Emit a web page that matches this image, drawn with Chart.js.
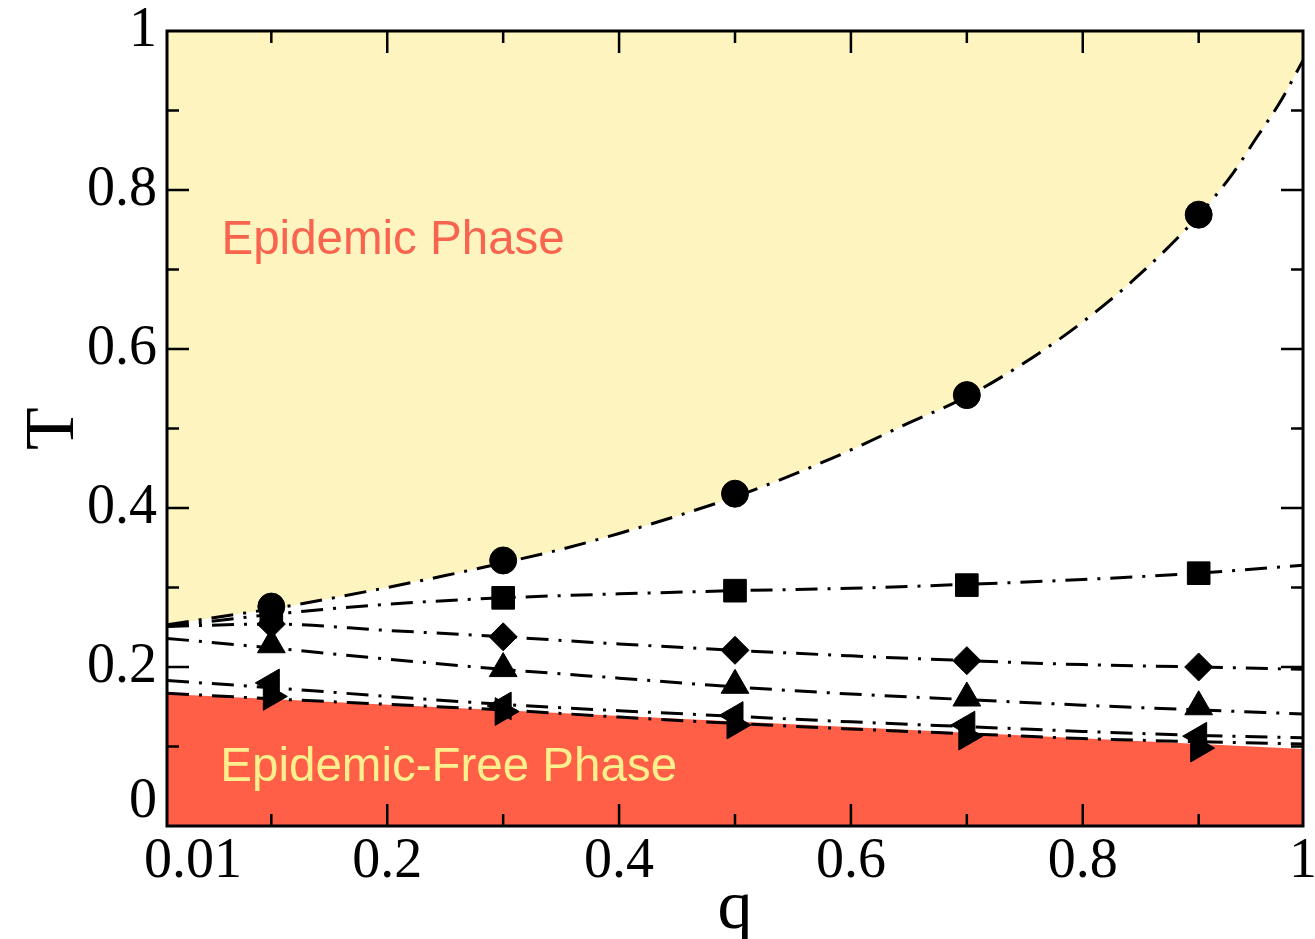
<!DOCTYPE html>
<html>
<head>
<meta charset="utf-8">
<script src="https://cdn.jsdelivr.net/npm/chart.js@4.4.1/dist/chart.umd.min.js"></script>
<style>
  html, body { margin: 0; padding: 0; background: #fff; }
  #wrap { width: 1315px; height: 939px; }
</style>
</head>
<body>
<div id="wrap"><canvas id="phaseChart"></canvas></div>
<script>
// measured thresholds (markers)
const qPoints = [0.1, 0.3, 0.5, 0.7, 0.9];
const circleT = [0.276, 0.334, 0.418, 0.542, 0.769];
const squareT = [0.265, 0.287, 0.296, 0.303, 0.318];
const diamondT = [0.254, 0.238, 0.221, 0.208, 0.200];
const triUpT = [0.228, 0.198, 0.177, 0.161, 0.150];
const triLeftT = [0.180, 0.151, 0.139, 0.127, 0.113];
const triRightT = [0.163, 0.144, 0.127, 0.113, 0.098];

// fitted curves (dash-dot lines)
const qFitCircle = [0.01, 0.05, 0.1, 0.15, 0.2, 0.25, 0.3, 0.35, 0.4, 0.45, 0.5, 0.55,
                    0.6, 0.65, 0.7, 0.75, 0.8, 0.85, 0.9, 0.93, 0.95, 0.97, 0.99];
const circleFit = [0.253, 0.262, 0.273, 0.286, 0.300, 0.315, 0.331, 0.348, 0.368, 0.390, 0.414, 0.442,
                   0.473, 0.507, 0.540, 0.583, 0.634, 0.695, 0.768, 0.822, 0.866, 0.910, 0.963];
const qFit = [0.01, 0.1, 0.2, 0.3, 0.4, 0.5, 0.6, 0.7, 0.8, 0.9, 0.99];
const squareFit = [0.251, 0.266, 0.279, 0.287, 0.292, 0.296, 0.299, 0.304, 0.310, 0.318, 0.328];
const diamondFit = [0.251, 0.254, 0.246, 0.238, 0.229, 0.221, 0.214, 0.208, 0.203, 0.200, 0.197];
const triUpFit = [0.236, 0.224, 0.210, 0.197, 0.186, 0.175, 0.166, 0.159, 0.152, 0.146, 0.141];
const triLeftFit = [0.183, 0.174, 0.163, 0.153, 0.145, 0.138, 0.131, 0.125, 0.119, 0.114, 0.111];
const triRightFit = [0.167, 0.160, 0.153, 0.146, 0.137, 0.129, 0.122, 0.116, 0.110, 0.106, 0.103];

// epidemic-free region boundary
const qFree = [0.01, 0.99];
const freeT = [0.166, 0.097];

// axes
const xMin = 0.01, xMax = 0.99;
const xLabelAt = [0.0325, 0.2, 0.4, 0.6, 0.8, 0.99];
const xLabelText = ['0.01', '0.2', '0.4', '0.6', '0.8', '1'];
const yLabelAt = [0.03, 0.2, 0.4, 0.6, 0.8, 1];
const yLabelText = ['0', '0.2', '0.4', '0.6', '0.8', '1'];
const xTickMarks = [0.1, 0.2, 0.3, 0.4, 0.5, 0.6, 0.7, 0.8, 0.9];
const yTickMarks = [0.1, 0.2, 0.3, 0.4, 0.5, 0.6, 0.7, 0.8, 0.9];
const majorMarks = [0.2, 0.4, 0.6, 0.8];

const YELLOW = '#fdf4c0';
const RED = '#fe5f46';
const DASH = [22, 10, 3, 10];

const xy = (xs, ys) => xs.map((q, i) => ({ x: q, y: ys[i] }));

function fitLine(xs, ys) {
  return {
    data: xy(xs, ys),
    borderColor: '#000',
    borderWidth: 3,
    borderDash: DASH,
    pointRadius: 0,
    fill: false,
    cubicInterpolationMode: 'monotone',
    order: 2
  };
}

function markers(ys, style, radius, rotation) {
  return {
    data: xy(qPoints, ys),
    showLine: false,
    pointStyle: style,
    pointRadius: radius,
    pointRotation: rotation || 0,
    pointBackgroundColor: '#000',
    pointBorderColor: '#000',
    pointBorderWidth: 1,
    order: 0
  };
}

// frame with inward ticks on all four sides
const framePlugin = {
  id: 'frame',
  afterDatasetsDraw(chart) {
    const { ctx, chartArea: a, scales: { x, y } } = chart;
    ctx.save();
    ctx.strokeStyle = '#000';
    ctx.lineWidth = 2.5;
    ctx.beginPath();
    xTickMarks.forEach(v => {
      const px = x.getPixelForValue(v);
      const len = majorMarks.includes(v) ? 22 : 12;
      ctx.moveTo(px, a.bottom); ctx.lineTo(px, a.bottom - len);
      ctx.moveTo(px, a.top); ctx.lineTo(px, a.top + len);
    });
    yTickMarks.forEach(v => {
      const py = y.getPixelForValue(v);
      const len = majorMarks.includes(v) ? 22 : 12;
      ctx.moveTo(a.left, py); ctx.lineTo(a.left + len, py);
      ctx.moveTo(a.right, py); ctx.lineTo(a.right - len, py);
    });
    ctx.stroke();
    ctx.lineWidth = 3;
    ctx.strokeRect(a.left, a.top, a.right - a.left, a.bottom - a.top);
    ctx.restore();
  }
};

const phaseLabels = [
  { text: 'Epidemic Phase', q: 0.057, t: 0.72, color: '#f9644f' },
  { text: 'Epidemic-Free Phase', q: 0.056, t: 0.057, color: '#fcef8e' }
];

const labelPlugin = {
  id: 'phaseLabels',
  afterDatasetsDraw(chart) {
    const { ctx, scales: { x, y } } = chart;
    ctx.save();
    ctx.font = '47.5px "Liberation Sans", Arial, sans-serif';
    ctx.textBaseline = 'alphabetic';
    ctx.textAlign = 'left';
    phaseLabels.forEach(l => {
      ctx.fillStyle = l.color;
      ctx.fillText(l.text, x.getPixelForValue(l.q), y.getPixelForValue(l.t));
    });
    ctx.restore();
  }
};

const serif = '"Liberation Serif", "Times New Roman", serif';

new Chart(document.getElementById('phaseChart'), {
  type: 'line',
  data: {
    datasets: [
      markers(circleT, 'circle', 13.5),
      markers(squareT, 'rect', 16),
      markers(diamondT, 'rectRot', 14),
      markers(triUpT, 'triangle', 16),
      markers(triLeftT, 'triangle', 16, -90),
      markers(triRightT, 'triangle', 16, 90),
      fitLine(qFitCircle, circleFit),
      fitLine(qFit, squareFit),
      fitLine(qFit, diamondFit),
      fitLine(qFit, triUpFit),
      fitLine(qFit, triLeftFit),
      fitLine(qFit, triRightFit),
      {
        // epidemic phase (above critical line)
        data: xy(qFitCircle, circleFit),
        borderWidth: 0,
        pointRadius: 0,
        backgroundColor: YELLOW,
        fill: 'end',
        cubicInterpolationMode: 'monotone',
        order: 3
      },
      {
        // epidemic-free phase
        data: xy(qFree, freeT),
        borderWidth: 0,
        pointRadius: 0,
        backgroundColor: RED,
        fill: 'origin',
        order: 3
      }
    ]
  },
  options: {
    responsive: true,
    maintainAspectRatio: false,
    animation: false,
    layout: { autoPadding: false, padding: { top: 31, right: 12, left: 0, bottom: 0 } },
    plugins: {
      legend: { display: false },
      tooltip: { enabled: false }
    },
    scales: {
      x: {
        type: 'linear',
        min: xMin,
        max: xMax,
        grid: { display: false, drawTicks: false },
        border: { display: false },
        afterBuildTicks: s => { s.ticks = xLabelAt.map(v => ({ value: v })); },
        afterFit: s => { s.height = 113; s.paddingLeft = 0; s.paddingRight = 0; },
        ticks: {
          autoSkip: false,
          maxRotation: 0,
          padding: 3,
          color: '#000',
          font: { family: serif, size: 56 },
          callback: v => xLabelText[xLabelAt.indexOf(v)]
        },
        title: {
          display: true,
          text: 'q',
          color: '#000',
          font: { family: serif, size: 70 },
          padding: { top: 0, bottom: -13 }
        }
      },
      y: {
        type: 'linear',
        min: 0,
        max: 1,
        grid: { display: false, drawTicks: false },
        border: { display: false },
        afterBuildTicks: s => { s.ticks = yLabelAt.map(v => ({ value: v })); },
        afterFit: s => { s.width = 167; s.paddingTop = 0; s.paddingBottom = 0; },
        ticks: {
          autoSkip: false,
          padding: 10,
          color: '#000',
          font: { family: serif, size: 56 },
          callback: v => yLabelText[yLabelAt.indexOf(v)]
        },
        title: {
          display: true,
          text: 'T',
          color: '#000',
          font: { family: serif, size: 70 },
          padding: { top: 13, bottom: 0 }
        }
      }
    }
  },
  plugins: [framePlugin, labelPlugin]
});
</script>
</body>
</html>
